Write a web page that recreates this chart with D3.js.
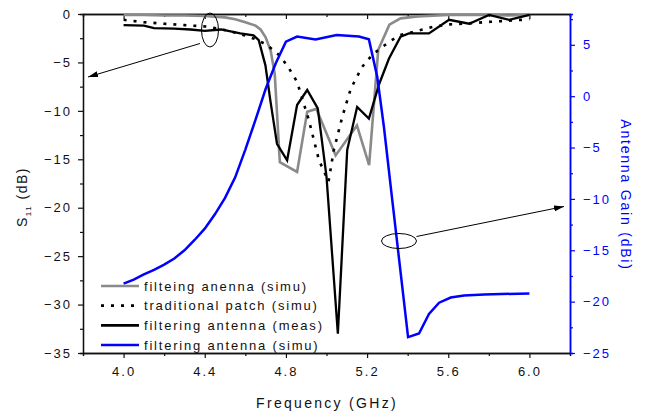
<!DOCTYPE html>
<html>
<head>
<meta charset="utf-8">
<script src="https://cdn.jsdelivr.net/npm/d3@7"></script>
<style>
  body { margin: 0; background: #fff; }
  svg text { font-family: "Liberation Sans", Arial, sans-serif; }
</style>
</head>
<body>
<script>
// S11 (dB)
var freqGray = [4.0, 4.1, 4.2, 4.3, 4.4, 4.5, 4.55, 4.6, 4.65, 4.675, 4.7, 4.725, 4.745, 4.77, 4.855, 4.905, 4.95, 5.045, 5.15, 5.21, 5.255, 5.31, 5.365, 5.45, 5.6, 5.7, 5.8, 5.9, 6.0];
var s11Gray = [-0.1, -0.1, -0.15, -0.15, -0.2, -0.35, -0.55, -0.85, -1.2, -1.6, -2.4, -3.8, -6.2, -15.3, -16.3, -10.1, -9.8, -14.6, -11.5, -15.6, -3.7, -1.1, -0.45, -0.25, -0.1, -0.1, -0.1, -0.15, -0.1];

var freqPatch = [4.0, 4.1, 4.2, 4.3, 4.41, 4.51, 4.567, 4.65, 4.707, 4.764, 4.806, 4.855, 4.913, 4.963, 5.01, 5.036, 5.078, 5.12, 5.176, 5.226, 5.31, 5.36, 5.464, 5.53, 5.61, 5.7, 5.81, 5.9, 6.0];
var s11Patch = [-0.6, -0.85, -1.0, -1.15, -1.3, -1.7, -2.0, -2.6, -3.2, -4.2, -5.3, -7.0, -10.95, -15.1, -17.3, -14.05, -10.6, -7.7, -5.45, -4.2, -2.85, -2.2, -1.65, -1.3, -1.07, -0.97, -0.8, -0.7, -0.55];

var freqMeas = [4.0, 4.1, 4.15, 4.25, 4.33, 4.4, 4.48, 4.575, 4.64, 4.666, 4.699, 4.723, 4.756, 4.806, 4.855, 4.905, 4.957, 5.0, 5.056, 5.102, 5.151, 5.209, 5.26, 5.308, 5.365, 5.406, 5.505, 5.604, 5.703, 5.801, 5.9, 6.0];
var s11Meas = [-1.15, -1.2, -1.45, -1.5, -1.6, -1.75, -1.6, -2.0, -2.2, -2.7, -5.3, -8.9, -13.4, -15.1, -9.4, -7.85, -9.75, -16.8, -33.0, -14.05, -9.6, -10.8, -7.2, -4.6, -2.35, -2.0, -2.0, -0.6, -1.0, -0.1, -0.6, -0.1];

// antenna gain (dBi), right axis
var freqGain = [4.0, 4.05, 4.1, 4.15, 4.2, 4.25, 4.3, 4.35, 4.4, 4.45, 4.5, 4.55, 4.6, 4.65, 4.7, 4.75, 4.8, 4.855, 4.946, 5.05, 5.16, 5.209, 5.25, 5.283, 5.324, 5.402, 5.456, 5.505, 5.555, 5.612, 5.678, 5.777, 6.0];
var gainSimu = [-18.25, -17.85, -17.35, -16.9, -16.4, -15.8, -15.0, -14.0, -12.9, -11.5, -9.9, -7.9, -5.2, -2.3, 0.7, 3.2, 5.3, 5.8, 5.53, 5.95, 5.8, 5.53, 1.9, -3.0, -10.1, -23.45, -23.1, -21.2, -20.1, -19.6, -19.4, -19.3, -19.2];

var xTicks = [4.0, 4.4, 4.8, 5.2, 5.6, 6.0];
var xMinor = [3.8, 4.2, 4.6, 5.0, 5.4, 5.8, 6.2];
var yLeftTicks = [0, -5, -10, -15, -20, -25, -30, -35];
var yRightTicks = [5, 0, -5, -10, -15, -20, -25];
var legendLabels = ["filteing anenna (simu)", "traditional patch (simu)", "filtering antenna (meas)", "filtering antenna (simu)"];

function main(){
    var width = 651, height = 414;
    var left = 83, right = 570, top = 14, bottom = 353;
    var blue = "#0000ff";

    var svg = d3.select("body").append("svg")
                .attr("width", width)
                .attr("height", height);

    var x = d3.scaleLinear().domain([3.8, 6.2]).range([left, right]);
    var yL = d3.scaleLinear().domain([-35, 0]).range([bottom, top]);
    var yR = d3.scaleLinear().domain([-25, 8]).range([bottom, top]);

    // minor ticks first, then major axes on top
    svg.append("g").attr("transform", "translate(0," + bottom + ")")
        .call(d3.axisBottom(x).tickValues(xMinor).tickSize(3).tickFormat(""));
    svg.append("g").attr("transform", "translate(0," + top + ")")
        .call(d3.axisBottom(x).tickValues(xMinor).tickSize(3).tickFormat(""));
    svg.append("g").attr("transform", "translate(" + left + ",0)")
        .call(d3.axisLeft(yL).tickValues(d3.range(-2.5, -35, -5)).tickSize(3).tickFormat(""));
    svg.append("g").attr("class", "rminor").attr("transform", "translate(" + right + ",0)")
        .call(d3.axisRight(yR).tickValues(d3.range(7.5, -25, -5)).tickSize(3).tickFormat(""));

    svg.append("g").attr("transform", "translate(0," + bottom + ")")
        .call(d3.axisBottom(x).tickValues(xTicks).tickSize(5).tickSizeOuter(0).tickPadding(9).tickFormat(d3.format(".1f")));
    svg.append("g").attr("transform", "translate(0," + top + ")")
        .call(d3.axisBottom(x).tickValues(xTicks).tickSize(5).tickSizeOuter(0).tickFormat(""));
    svg.append("g").attr("transform", "translate(" + left + ",0)")
        .call(d3.axisLeft(yL).tickValues(yLeftTicks).tickSize(5).tickSizeOuter(0).tickPadding(6));
    svg.append("g").attr("class", "raxis").attr("transform", "translate(" + right + ",0)")
        .call(d3.axisRight(yR).tickValues(yRightTicks).tickSize(5).tickSizeOuter(0).tickPadding(8));

    svg.selectAll(".domain").attr("stroke", "#111").attr("stroke-width", 1.3);
    svg.selectAll(".tick line").attr("stroke", "#111").attr("stroke-width", 1.2);
    svg.selectAll(".tick text").attr("font-size", 13).attr("fill", "#111")
        .style("letter-spacing", "2px")
        .attr("font-family", "Liberation Sans, Arial, sans-serif");
    svg.selectAll(".raxis .domain, .rminor .domain").attr("stroke", blue).attr("stroke-width", 1.5);
    svg.selectAll(".raxis .tick line, .rminor .tick line").attr("stroke", blue);
    svg.selectAll(".raxis .tick text").attr("fill", blue);

    // curves
    function drawLine(fx, fy, ys, color, w, dash){
        var pts = fx.map(function(f, i){ return [f, fy[i]]; });
        var line = d3.line().x(function(d){ return x(d[0]); }).y(function(d){ return ys(d[1]); });
        var p = svg.append("path").datum(pts)
            .attr("d", line)
            .attr("fill", "none")
            .attr("stroke", color)
            .attr("stroke-width", w)
            .attr("stroke-linejoin", "miter");
        if (dash) p.attr("stroke-dasharray", dash);
    }
    drawLine(freqGray, s11Gray, yL, "#8a8a8a", 2.6);
    drawLine(freqPatch, s11Patch, yL, "#000", 2.6, "3,7");
    drawLine(freqMeas, s11Meas, yL, "#000", 2.3);
    drawLine(freqGain, gainSimu, yR, blue, 2.5);

    // annotations: ellipses and arrows
    svg.append("defs").append("marker")
        .attr("id", "arr").attr("viewBox", "0 0 10 6")
        .attr("refX", 10).attr("refY", 3)
        .attr("markerWidth", 10).attr("markerHeight", 6)
        .attr("markerUnits", "userSpaceOnUse")
        .attr("orient", "auto")
        .append("path").attr("d", "M0,0L10,3L0,6Z").attr("fill", "#000");

    svg.append("ellipse").attr("cx", 210).attr("cy", 30).attr("rx", 8.5).attr("ry", 17)
        .attr("fill", "none").attr("stroke", "#000").attr("stroke-width", 1);
    svg.append("line").attr("x1", 200).attr("y1", 43.5).attr("x2", 88).attr("y2", 77)
        .attr("stroke", "#000").attr("stroke-width", 1).attr("marker-end", "url(#arr)");

    svg.append("ellipse").attr("cx", 399).attr("cy", 241).attr("rx", 17.5).attr("ry", 7.5)
        .attr("fill", "none").attr("stroke", "#000").attr("stroke-width", 1);
    svg.append("line").attr("x1", 416.5).attr("y1", 236.5).attr("x2", 564).attr("y2", 206.5)
        .attr("stroke", "#000").attr("stroke-width", 1).attr("marker-end", "url(#arr)");

    // legend
    var legColors = ["#8a8a8a", "#000", "#000", blue];
    var legDash = [null, "3,7", null, null];
    var legY = d3.scalePoint().domain(legendLabels).range([286, 345]);
    var leg = svg.selectAll(".leg").data(legendLabels).enter().append("g")
        .attr("class", "leg")
        .attr("transform", function(d){ return "translate(0," + legY(d) + ")"; });
    leg.append("line").attr("x1", 101).attr("x2", 139)
        .attr("stroke", function(d, i){ return legColors[i]; })
        .attr("stroke-width", 2.6)
        .attr("stroke-dasharray", function(d, i){ return legDash[i]; });
    leg.append("text").attr("x", 144).attr("y", 4.5)
        .attr("font-size", 13).attr("fill", "#111")
        .style("letter-spacing", "1.8px")
        .text(function(d){ return d; });

    // axis titles
    svg.append("text").attr("x", 327).attr("y", 408)
        .attr("text-anchor", "middle").attr("font-size", 14).attr("fill", "#111")
        .style("letter-spacing", "2.3px")
        .text("Frequency (GHz)");

    var yt = svg.append("text")
        .attr("transform", "translate(27,197) rotate(-90)")
        .attr("text-anchor", "middle").attr("font-size", 14).attr("fill", "#111")
        .style("letter-spacing", "1.5px");
    yt.append("tspan").text("S");
    yt.append("tspan").attr("font-size", 8).attr("dy", 4).text("11");
    yt.append("tspan").attr("dy", -4).text(" (dB)");

    svg.append("text")
        .attr("transform", "translate(621,195) rotate(90)")
        .attr("text-anchor", "middle").attr("font-size", 14).attr("fill", blue)
        .style("letter-spacing", "1.8px")
        .text("Antenna Gain (dBi)");
}
main();
</script>
</body>
</html>
